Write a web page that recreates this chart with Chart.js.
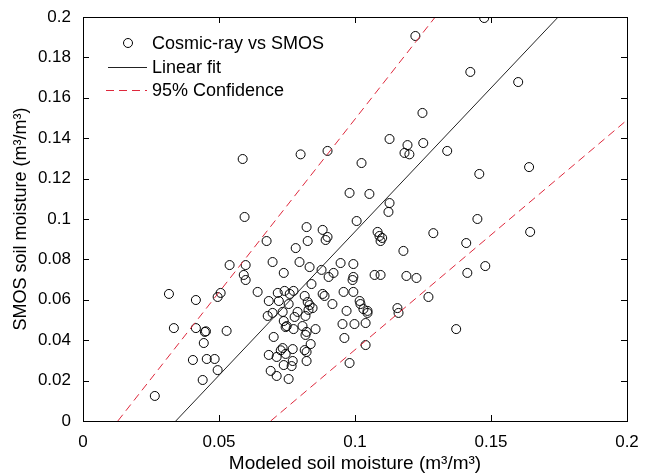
<!DOCTYPE html>
<html><head><meta charset="utf-8">
<script src="https://cdn.jsdelivr.net/npm/chart.js@4"></script>
<style>html,body{margin:0;padding:0;background:#fff;}#wrap{width:652px;height:475px;}</style>
</head><body><div id="wrap"><canvas id="c" width="652" height="475"></canvas></div>
<script>
// Scatter data: modeled (x) vs SMOS (y)
const modeled = [0.1222,0.1248,0.1127,0.1193,0.1251,0.1424,0.0899,0.0800,0.1475,0.1600,
0.0587,0.0594,0.0675,0.0539,0.0598,0.0697,0.0591,0.0598,0.0495,0.0506,
0.1182,0.1200,0.1339,0.1024,0.0980,0.1053,0.1127,0.1123,0.1006,0.0822,
0.0881,0.0899,0.0892,0.0826,0.0782,0.1083,0.1090,0.1100,0.1094,0.1288,
0.1178,0.1409,0.0796,0.0833,0.0947,0.0994,0.0738,0.0877,0.0921,0.0903,
0.0994,0.1072,0.1094,0.1189,0.1226,0.1413,0.1457,0.1640,0.1450,0.1644,
0.1479,0.0316,0.0415,0.0642,0.0683,0.0716,0.0720,0.0679,0.0697,0.0334,
0.0415,0.0448,0.0452,0.0528,0.0701,0.0444,0.0404,0.0455,0.0484,0.0495,
0.0683,0.0712,0.0727,0.0690,0.0712,0.0440,0.0264,0.0840,0.0991,0.1270,
0.1372,0.0741,0.0760,0.0774,0.0756,0.0815,0.0826,0.0833,0.0844,0.0829,
0.0881,0.0888,0.0917,0.0958,0.0994,0.1017,0.1020,0.1031,0.1046,0.1046,
0.0969,0.1156,0.1160,0.0734,0.0789,0.0778,0.0818,0.0738,0.0749,0.0745,
0.0774,0.0807,0.0822,0.0818,0.0855,0.0954,0.0998,0.1039,0.0961,0.1039,
0.0980,0.0837,0.0734,0.0771,0.0815,0.0822,0.0745,0.0771,0.0822,0.0738,
0.0767,0.0756];
const smos = [0.1906,0.1525,0.1396,0.1366,0.1376,0.1728,0.1337,0.1320,0.1995,0.1678,
0.1297,0.1010,0.0891,0.0772,0.0772,0.0787,0.0723,0.0698,0.0614,0.0634,
0.1327,0.1320,0.1337,0.1277,0.1129,0.1124,0.1079,0.1035,0.0990,0.0960,
0.0946,0.0911,0.0896,0.0891,0.0856,0.0936,0.0916,0.0906,0.0891,0.0930,
0.0842,0.0881,0.0787,0.0762,0.0782,0.0777,0.0733,0.0748,0.0733,0.0713,
0.0713,0.0723,0.0723,0.0718,0.0708,0.0733,0.1223,0.1257,0.1000,0.0936,
0.0767,0.0629,0.0599,0.0639,0.0594,0.0634,0.0594,0.0520,0.0535,0.0460,
0.0460,0.0441,0.0444,0.0446,0.0416,0.0386,0.0302,0.0307,0.0307,0.0252,
0.0327,0.0317,0.0350,0.0248,0.0223,0.0203,0.0124,0.0678,0.0698,0.0614,
0.0455,0.0644,0.0629,0.0644,0.0579,0.0619,0.0589,0.0574,0.0559,0.0550,
0.0629,0.0619,0.0579,0.0639,0.0639,0.0594,0.0579,0.0554,0.0545,0.0535,
0.0545,0.0559,0.0535,0.0540,0.0540,0.0515,0.0520,0.0495,0.0470,0.0465,
0.0455,0.0470,0.0441,0.0426,0.0455,0.0480,0.0480,0.0485,0.0411,0.0376,
0.0287,0.0381,0.0361,0.0356,0.0351,0.0342,0.0332,0.0297,0.0297,0.0277,
0.0272,0.0208];
// Linear fit and 95% confidence lines (endpoints)
const fitX = [0.0341, 0.1747];
const fitY = [0, 0.2];
const upperX = [0.0128, 0.1295];
const upperY = [0, 0.2];
const lowerX = [0.0690, 0.2];
const lowerY = [0, 0.149];
// Tick labels
const xTicks = [0, 0.05, 0.1, 0.15, 0.2];
const yTicks = [0, 0.02, 0.04, 0.06, 0.08, 0.1, 0.12, 0.14, 0.16, 0.18, 0.2];
const seriesNames = ['Cosmic-ray vs SMOS', 'Linear fit', '95% Confidence'];

const FONT = '"Liberation Sans", Arial, sans-serif';
const RED = 'rgb(222,40,60)';
const pairs = (xs, ys) => xs.map((x, i) => ({x: x, y: ys[i]}));

const boxPlugin = {
  id: 'boxPlugin',
  afterDatasetsDraw(chart) {
    const ctx = chart.ctx, a = chart.chartArea;
    const xs = chart.scales.x, ys = chart.scales.y;
    ctx.save();
    ctx.strokeStyle = '#000';
    ctx.lineWidth = 1;
    ctx.strokeRect(Math.round(a.left) + 0.5, Math.round(a.top) + 0.5,
      Math.round(a.right - a.left), Math.round(a.bottom - a.top));
    const L = 6;
    ctx.beginPath();
    xTicks.forEach(v => {
      const px = Math.round(xs.getPixelForValue(v)) + 0.5;
      ctx.moveTo(px, a.bottom); ctx.lineTo(px, a.bottom - L);
      ctx.moveTo(px, a.top); ctx.lineTo(px, a.top + L);
    });
    yTicks.forEach(v => {
      const py = Math.round(ys.getPixelForValue(v)) + 0.5;
      ctx.moveTo(a.left, py); ctx.lineTo(a.left + L, py);
      ctx.moveTo(a.right, py); ctx.lineTo(a.right - L, py);
    });
    ctx.stroke();
    // legend
    ctx.font = '18px ' + FONT;
    ctx.fillStyle = '#000';
    ctx.textBaseline = 'middle';
    ctx.textAlign = 'left';
    const lx0 = 108, lx1 = 147, tx = 152;
    const rows = [43, 67, 90];
    ctx.beginPath();
    ctx.arc(128, rows[0], 4.5, 0, Math.PI * 2);
    ctx.strokeStyle = '#000';
    ctx.lineWidth = 1;
    ctx.stroke();
    ctx.beginPath();
    ctx.moveTo(lx0, rows[1] + 0.5); ctx.lineTo(lx1, rows[1] + 0.5);
    ctx.strokeStyle = '#222';
    ctx.stroke();
    ctx.beginPath();
    ctx.setLineDash([8, 5]);
    ctx.moveTo(lx0 - 2, rows[2] + 0.5); ctx.lineTo(lx1, rows[2] + 0.5);
    ctx.strokeStyle = RED;
    ctx.stroke();
    ctx.setLineDash([]);
    seriesNames.forEach((n, i) => ctx.fillText(n, tx, rows[i] + 1));
    ctx.restore();
  }
};

new Chart(document.getElementById('c'), {
  type: 'scatter',
  data: {
    datasets: [
      {label: seriesNames[0], data: pairs(modeled, smos), pointStyle: 'circle', pointRadius: 4.5,
       pointBorderWidth: 1, pointBorderColor: '#000', pointBackgroundColor: 'rgba(0,0,0,0)', showLine: false, order: 2},
      {label: seriesNames[1], data: pairs(fitX, fitY), showLine: true, borderColor: '#222', borderWidth: 1,
       pointRadius: 0, order: 1},
      {label: seriesNames[2], data: pairs(upperX, upperY), showLine: true, borderColor: RED, borderWidth: 1,
       borderDash: [8, 5], pointRadius: 0, order: 1},
      {label: seriesNames[2] + ' (lower)', data: pairs(lowerX, lowerY), showLine: true, borderColor: RED, borderWidth: 1,
       borderDash: [8, 5], pointRadius: 0, order: 1}
    ]
  },
  options: {
    responsive: false,
    animation: false,
    events: [],
    layout: {padding: {top: 17, right: 25, left: 0, bottom: 0}},
    plugins: {legend: {display: false}, tooltip: {enabled: false}},
    scales: {
      x: {
        type: 'linear', min: 0, max: 0.2,
        afterBuildTicks: s => { s.ticks = xTicks.map(v => ({value: v})); },
        afterFit: s => { s.height = 54; },
        grid: {display: false}, border: {display: false},
        ticks: {color: '#000', font: {family: FONT, size: 17}, padding: 3, maxRotation: 0,
                callback: v => String(v)},
        title: {display: true, text: 'Modeled soil moisture (m\u00B3/m\u00B3)', color: '#000',
                font: {family: FONT, size: 19}, padding: {top: 0, bottom: 0}}
      },
      y: {
        type: 'linear', min: 0, max: 0.2,
        afterBuildTicks: s => { s.ticks = yTicks.map(v => ({value: v})); },
        afterFit: s => { s.width = 83; },
        grid: {display: false}, border: {display: false},
        ticks: {color: '#000', font: {family: FONT, size: 17}, padding: 4,
                callback: v => String(v)},
        title: {display: true, text: 'SMOS soil moisture (m\u00B3/m\u00B3)', color: '#000',
                font: {family: FONT, size: 18}, padding: {top: 10, bottom: 0}}
      }
    }
  },
  plugins: [boxPlugin]
});
</script>
</body></html>
